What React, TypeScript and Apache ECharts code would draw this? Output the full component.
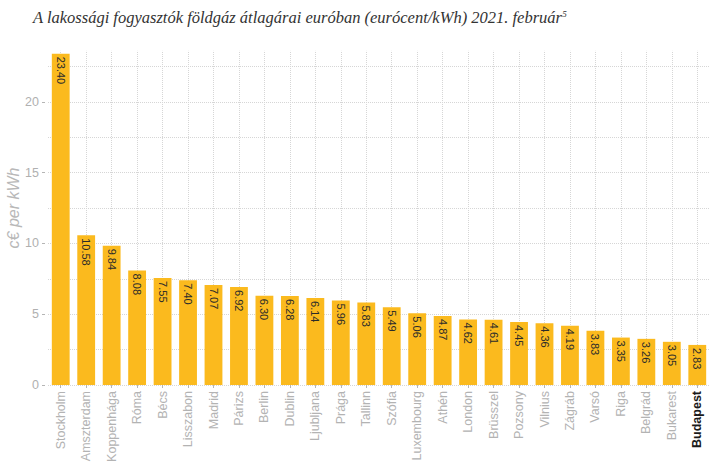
import React, { useEffect, useRef } from "react";
import * as echarts from "echarts";

const cities = [
  "Stockholm", "Amszterdam", "Koppenhága", "Róma", "Bécs", "Lisszabon", "Madrid", "Párizs",
  "Berlin", "Dublin", "Ljubljana", "Prága", "Tallinn", "Szófia", "Luxembourg", "Athén",
  "London", "Brüsszel", "Pozsony", "Vilnius", "Zágráb", "Varsó", "Riga", "Belgrád",
  "Bukarest", "Budapest",
];
const prices = [
  23.4, 10.58, 9.84, 8.08, 7.55, 7.4, 7.07, 6.92, 6.3, 6.28, 6.14, 5.96, 5.83, 5.49, 5.06,
  4.87, 4.62, 4.61, 4.45, 4.36, 4.19, 3.83, 3.35, 3.26, 3.05, 2.83,
];
const yTicks = [0, 5, 10, 15, 20, 25];
const highlight = "Budapest";
const title = "A lakossági fogyasztók földgáz átlagárai euróban (eurócent/kWh) 2021. február";
const gridTop = 23.6;

const SERIF = "'Liberation Serif', 'Times New Roman', 'DejaVu Serif', serif";
const SANS = "'Liberation Sans', Arial, sans-serif";

export default function App() {
  const ref = useRef<HTMLDivElement>(null);
  useEffect(() => {
    if (!ref.current) return;
    const chart = echarts.init(ref.current, null, { renderer: "svg" });
    const grid = "#d6d6d6";
    const lineColors = yTicks.map((t, i) => (i === yTicks.length - 1 ? "rgba(0,0,0,0)" : grid));
    chart.setOption({
      animation: false,
      backgroundColor: "#ffffff",
      title: {
        text: "{t|" + title + "}{s|5}",
        left: 28,
        top: 4,
        textStyle: {
          fontFamily: SERIF,
          fontStyle: "italic",
          fontWeight: "normal",
          fontSize: 16,
          color: "#333333",
          rich: {
            t: { fontFamily: SERIF, fontStyle: "italic", fontWeight: "normal", fontSize: 16.5, color: "#333333" },
            s: { fontFamily: SERIF, fontStyle: "italic", fontSize: 9, color: "#333333", verticalAlign: "top", padding: [0, 0, 8, 0] },
          },
        },
      },
      grid: { left: 48, right: 10, top: 31, bottom: 90, containLabel: false, outerBoundsMode: "none" },
      xAxis: {
        type: "category",
        data: cities,
        axisLine: { show: false },
        axisTick: { show: true, alignWithLabel: true, length: 3, lineStyle: { color: "#b5b5b5" } },
        axisLabel: {
          rotate: 90,
          margin: 6,
          interval: 0,
          fontFamily: SANS,
          fontSize: 12.5,
          color: "#b3b3b3",
          formatter: (v: string) => (v === highlight ? `{b|${v}}` : v),
          rich: { b: { fontWeight: "bold", color: "#1a1a1a", fontFamily: SANS, fontSize: 12.5 } },
        },
        splitLine: { show: false },
      },
      yAxis: {
        type: "value",
        min: yTicks[0],
        max: yTicks[yTicks.length - 1],
        interval: 5,
        offset: 3,
        name: "c€ per kWh",
        nameLocation: "middle",
        nameGap: 24,
        nameMoveOverlap: false,
        nameTextStyle: { fontFamily: SANS, fontStyle: "italic", fontSize: 16, color: "#b8b8b8", padding: [0, 0, 0, 0] },
        axisLine: { show: false },
        axisTick: { show: true, length: 3, lineStyle: { color: "#b5b5b5" } },
        axisLabel: {
          fontFamily: SANS,
          fontSize: 12.5,
          color: "#b0b0b0",
          margin: 6,
          showMaxLabel: false,
        },
        splitLine: { show: true, lineStyle: { color: lineColors, type: "dotted", width: 1 } },
        minorTick: { show: false, splitNumber: 2 },
        minorSplitLine: { show: true, lineStyle: { color: grid, type: "dotted", width: 1 } },
      },
      series: [
        {
          type: "bar",
          data: prices,
          z: 3,
          barCategoryGap: "30%",
          itemStyle: { color: "#FBBA1E" },
          label: {
            show: true,
            position: "insideTop",
            rotate: -90,
            align: "left",
            verticalAlign: "middle",
            distance: 3,
            fontFamily: SANS,
            fontSize: 11,
            color: "#2a2a2a",
            formatter: (p: any) => Number(p.value).toFixed(2),
          },
          markLine: {
            z: 1,
            silent: true,
            symbol: "none",
            label: { show: false },
            lineStyle: { color: grid, type: "dotted", width: 1 },
            data: cities.map((c) => [
              { coord: [c, 0] },
              { coord: [c, gridTop] },
            ]),
          },
        },
      ],
    });
    return () => chart.dispose();
  }, []);
  return <div ref={ref} style={{ position: "fixed", left: 0, top: 0, width: 720, height: 475 }} />;
}
